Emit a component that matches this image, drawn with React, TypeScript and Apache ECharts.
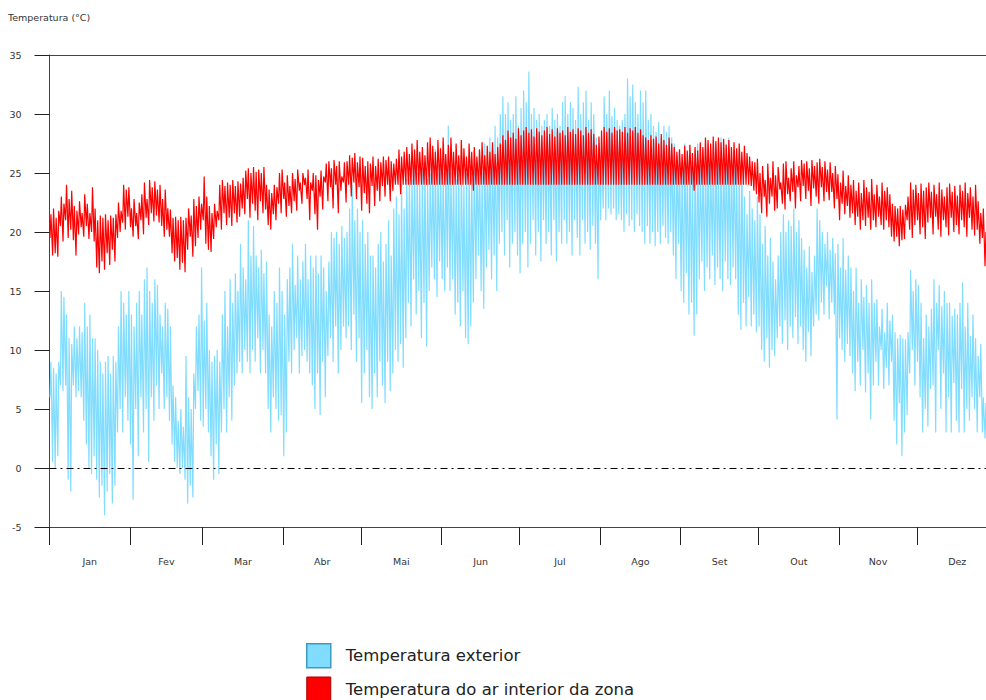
import React, { useEffect, useRef } from "react";
import * as echarts from "echarts";

const MONTHS = ["Jan", "Fev", "Mar", "Abr", "Mai", "Jun", "Jul", "Ago", "Set", "Out", "Nov", "Dez"];
const MONTH_STARTS = [0, 31, 59, 90, 120, 151, 181, 212, 243, 273, 304, 334, 365];
const SERIES_NAMES = ["Temperatura exterior", "Temperatura do ar interior da zona"];

// Daily maximum / minimum of the exterior temperature (°C), day 0 = 1 Jan
const EXT_MAX = [
  9, 8.5, 8, 9, 15, 14.5, 13, 11, 10.5, 12,
  11, 12, 11.5, 14, 12, 13, 11, 11, 10, 9,
  8, 9, 9.5, 8, 9.5, 9, 12, 15, 14, 13,
  15, 13, 12, 14, 15, 13, 16, 17, 15, 14,
  16, 15.5, 13, 12, 14, 13.5, 12, 7, 6, 4,
  5, 3.5, 9.5, 6, 5, 8, 12, 13, 17, 12.5,
  14, 10, 9, 9.5, 10, 9, 13, 15, 12, 16,
  14, 16.5, 15, 19, 17, 16, 21, 18, 20.5, 18,
  17, 18.5, 16.5, 17.5, 13, 12, 15, 14, 17, 15,
  13, 16, 17, 19, 15.5, 18, 16, 17.5, 19, 16,
  18, 17, 18, 16.5, 18, 17, 15, 17.5, 20, 19.5,
  20, 19, 20.5, 19.5, 20, 22, 24, 21, 22, 20,
  21, 19, 20, 18, 18, 17, 19, 20, 17.5, 19,
  21, 18, 22, 23, 21.5, 24, 22, 24.5, 25, 24.5,
  26, 25, 24, 25.5, 26, 24.5, 25, 26, 27, 25,
  26, 25, 26.5, 29, 25, 26, 24.5, 25, 26, 24,
  25, 26, 25, 27, 26, 27, 25, 27.5, 26, 28,
  27, 29, 28, 30, 31.5, 30, 31, 29.5, 30, 31.5,
  29, 30.5, 32, 31, 33.6, 30, 30.5, 29.5, 30, 29,
  29.5, 30, 29, 30.5, 29.5, 30, 29, 31, 31.5, 30,
  31, 30.5, 29.5, 32.3, 30, 31, 32, 29.5, 31, 30,
  28, 27.5, 27, 31.5, 30, 32, 29.8, 30.5, 29.5, 29,
  29.5, 30, 33, 31.5, 32.5, 31, 30, 32, 31, 32,
  29.5, 30, 29, 28.5, 29.3, 28, 29, 28.5, 29, 28,
  27.5, 26.5, 27, 26, 27.5, 26.5, 27, 26, 27, 27.5,
  26, 27, 26.5, 27.5, 26, 27, 27.5, 26, 28, 27,
  27.5, 28, 26.5, 27, 25.5, 26.5, 26, 23, 21.5, 23.5,
  22, 21, 23, 21.5, 19, 20.5, 18, 19.5, 17.5, 16,
  18, 20, 21.5, 20, 21, 20.5, 22, 20, 21, 19.5,
  18.5, 17, 18.8, 16.6, 18, 22, 21, 20, 19, 20,
  18.5, 19.5, 18.2, 19, 17, 19.5, 16.8, 18, 17, 15,
  17, 14, 16, 14.5, 15.5, 14, 16, 14, 14.3, 12,
  13.5, 11.5, 14, 12.5, 13, 11.5, 11, 11.3, 11, 10.9,
  11.5, 16.8, 15, 16, 15.5, 14, 11, 13, 12, 13.5,
  16, 14, 15.5, 13.7, 15, 14, 14, 12.9, 13.5, 13,
  14, 15.7, 12, 14, 11.2, 13, 11, 9.5, 10.5, 6,
  5.5, 6, 7, 8, 7,
];
const EXT_MIN = [
  6, 0.5, 0, 1, 7, 6.5, 7, -1, -2, 7,
  6, 6.5, 6, 4, 2, 0, -0.5, 1, -1, -2.5,
  -1.5, -4, -2, -0.5, -3, -1.5, 3, 5, 3, 6,
  4, 2, -2.7, 5, 1, 6, 3, 5, 0.5, 6,
  4, 7, 5, 8, 5, 6, 4, 2, 0.5, 0,
  -0.5, 0, -1, -3, -1.5, -2.5, 5, 6.5, 4, 3.5,
  5, 3, 1, -1, 2, -0.5, 3, 5, 3, 6,
  4, 7, 8, 9, 8, 10, 9, 8, 10, 9,
  11, 8, 10, 8, 5, 3, 6, 5, 4, 4.5,
  1, 3, 9, 8, 10, 11, 8, 9.5, 10, 9,
  8, 7, 5, 8, 4.5, 9, 6, 9.5, 11, 9,
  12, 8, 10, 12, 11, 12, 10, 13, 9, 11,
  5.5, 8, 10, 6, 5, 8, 6, 9, 7, 5.5,
  9, 6.5, 8, 10, 9, 10.5, 8.5, 11, 14, 12,
  16, 13, 15, 11, 14, 10.3, 15, 17, 16, 14.5,
  17.5, 16, 15, 17, 15, 16, 13, 14, 12, 15,
  11, 10.5, 12, 14, 16, 18, 15, 13.5, 17, 18.5,
  16, 18, 15, 19, 20, 18, 21, 17, 19, 20,
  18, 16.5, 19, 20, 17, 19, 21, 18, 20, 17.5,
  21, 19, 20, 18, 21, 17.5, 20, 19, 21, 19,
  20, 18, 21, 19.5, 18, 21, 19, 20, 18.5, 20.5,
  19, 16, 21, 22, 21, 22, 21.5, 22, 21, 21.5,
  21, 20, 21.5, 20.5, 21, 20, 21.5, 20.5, 20, 19,
  20.5, 19, 20, 18.8, 20, 19, 20.5, 19.5, 19, 20,
  18, 16, 19, 15, 14, 16.5, 13, 14, 11.2, 13,
  16, 17.5, 15, 17, 16, 18, 15.5, 17, 16, 15,
  17.5, 16, 15.5, 17, 16, 13, 11.7, 14, 12, 14.5,
  12, 13, 11.5, 12, 10, 9, 11, 8.5, 10, 9.5,
  11, 12, 10.5, 12.5, 10, 12, 11, 12.8, 10.5, 12,
  10, 9, 11.5, 9.5, 12, 13, 12.5, 14, 13, 15.4,
  12.6, 14, 13, 4.1, 11, 10, 9, 10.5, 9.5, 8,
  6.5, 9, 7, 10, 6.4, 8, 4.1, 7, 9, 7,
  10, 6.7, 8.5, 7, 9, 4, 2, 5.5, 1, 3,
  4.5, 8, 10, 7, 9, 6, 3, 5, 3.5, 6.7,
  7, 3, 10, 5, 8, 3, 6, 3, 7.2, 4,
  3, 6.7, 3, 5, 4, 6, 5, 3, 6, 3,
  2.5, 3, 4, 3, 4,
];

// Daily maximum / minimum of the zone interior air temperature (°C)
const INT_MAX = [
  21.5, 22, 21.2, 21.8, 23, 22.4, 24, 22.8, 23.5, 22.2,
  21.8, 22.6, 21.6, 23.2, 22.4, 21.6, 23.8, 22, 21, 21.4,
  21.2, 21.5, 21, 21.4, 21.2, 21.5, 22.5, 21.8, 24, 23.6,
  23.8, 22, 22.8, 21.6, 22.5, 23.2, 24.2, 22.8, 24.4, 23.8,
  24.3, 23.6, 24, 22.8, 23.6, 22, 21.9, 21.2, 21.3, 21,
  21.3, 21, 21.2, 22, 21.4, 22.8, 22.2, 23, 22.4, 24.7,
  23, 22.2, 21.6, 22.4, 21.8, 24, 24.4, 23.9, 24.2, 24,
  24.4, 23.9, 24.3, 24.1, 24.6, 25.2, 25.4, 25, 25.5, 25.1,
  25.3, 25, 25.5, 24, 23.6, 23.3, 24, 23.8, 25, 25.3,
  24.2, 24.8, 23.9, 25, 24.5, 25.3, 24.2, 25, 24.6, 25.3,
  24.2, 25, 24.8, 24.4, 25.2, 24.7, 25.8, 26, 25.4, 26.1,
  25.6, 26, 24.7, 25.9, 26, 26.5, 26.3, 26.7, 25.9, 26.4,
  26.3, 25.6, 26, 25.8, 26.4, 25.6, 26.2, 25.9, 26.4, 26.1,
  26.4, 26, 25.8, 26.2, 27, 26.4, 26.8, 27.2, 26.6, 27.5,
  27, 27.8, 26.8, 27.2, 26.5, 27.6, 28, 27.3, 26.8, 27.8,
  27.1, 28, 26.6, 27.4, 28, 26.8, 27.5, 26.5, 27.8, 27.1,
  26.4, 27.5, 26.8, 27.2, 26.4, 27, 27.6, 26.5, 27.3, 26.8,
  27.6, 26.6, 27.2, 27.5, 28.2, 27.8, 28.6, 28, 28.4, 27.9,
  28.8, 28.2, 28.6, 28.9, 28.4, 28.7, 28.1, 28.8, 28.5, 28.2,
  28.6, 28.9, 28.3, 28.7, 28.1, 28.8, 28.4, 28.6, 28.2, 28.9,
  28.5, 28.7, 28.3, 28.8, 28.6, 28.2, 28.9, 28.4, 28.7, 28.3,
  27.4, 28.1, 28.6, 28.9, 28.5, 28.8, 28.4, 28.9, 28.6, 28.7,
  28.5, 28.9, 28.4, 28.8, 28.6, 28.9, 28.4, 28.7, 28.2, 28,
  27.8, 28.2, 27.9, 28.1, 27.5, 28.3, 27.8, 27.4, 28, 27.5,
  27.2, 26.8, 27, 26.6, 27.3, 26.9, 27.4, 26.7, 27.2, 26.9,
  27.6, 27.2, 28, 27.8, 27.5, 28.1, 27.7, 28, 27.6, 27.9,
  27.4, 27.8, 27.2, 27.6, 27.1, 27.5, 26.8, 27.3, 26.7, 26.4,
  26, 25.9, 26.2, 25, 25.6, 24.4, 25.8, 24.6, 26, 24.8,
  25.5, 24.2, 25.8, 26, 24.6, 25.4, 26, 24.8, 25.6, 26.1,
  25.8, 26, 25.4, 26.1, 25.6, 25.9, 26.2, 25.5, 26, 25.3,
  25.9, 25, 25.6, 24.9, 24.2, 25.2, 23.9, 24.8, 24, 24.4,
  23.5, 24.2, 23.3, 24.4, 23.8, 23.4, 24.5, 23.2, 24, 23,
  24.2, 23.5, 23.8, 23.2, 22.4, 22.2, 22, 22.2, 21.9, 22.3,
  23, 24.2, 23.6, 24, 23.3, 24.1, 23.5, 23.8, 24.2, 23.4,
  24, 23.2, 24.2, 23.6, 23, 23.8, 24.1, 23.4, 23.9, 23.1,
  24, 23.5, 24.2, 23.3, 23.8, 23, 24, 22.6, 21.6, 22,
  20, 21, 21.5, 21, 21.5,
];
const INT_MIN = [
  19.5, 18, 18.2, 17.9, 20.5, 19.2, 21, 19.5, 20.2, 19.3,
  18, 19.8, 20.4, 19.6, 20.5, 19.4, 20, 19.2, 17, 16.5,
  17.5, 16.8, 18.2, 17.2, 18.5, 17.5, 19.5, 20, 20.8, 20.2,
  21.3, 20.4, 19.6, 20.5, 19.4, 21, 19.8, 21.2, 20.6, 21.6,
  20.9, 21.4, 20.8, 20.5, 19.6, 20.2, 19.6, 18.2, 17.5, 17.8,
  16.8, 17.4, 16.6, 18.5, 19.6, 17.9, 18.8, 19.5, 20.2, 21,
  19, 18.5, 18.3, 19.4, 20.4, 21, 20.2, 21.6, 20.6, 21.2,
  20.5, 21.6, 20.8, 21.3, 22, 21.5, 22.8, 21.2, 22.4, 21.8,
  21, 22.6, 21.6, 21.9, 20.6, 20.2, 21.5, 21, 22.4, 21.6,
  22.8, 21.3, 22.2, 21.6, 22.6, 21.8, 23.5, 22.4, 24, 22.8,
  21, 23.5, 21.5, 20.2, 23, 21.9, 24.2, 22.6, 23.8, 22,
  24, 21.6, 23.5, 24.2, 22.5, 24, 23, 24.2, 22.8, 23.8,
  21.8, 23.3, 22.4, 21.6, 23.9, 22.2, 23.5, 22.6, 23.9, 23,
  24, 22.6, 23.5, 24, 24, 23.2, 24, 24, 24, 24,
  24, 24, 24, 24, 24, 24, 24, 24, 24, 24,
  24, 24, 24, 24, 24, 24, 24, 24, 24, 24,
  24, 24, 24, 23.5, 24, 24, 24, 24, 24, 24,
  24, 24, 24, 24, 24, 24, 24, 24, 24, 24,
  24, 24, 24, 24, 24, 24, 24, 24, 24, 24,
  24, 24, 24, 24, 24, 24, 24, 24, 24, 24,
  24, 24, 24, 24, 24, 24, 24, 24, 24, 24,
  24, 24, 24, 24, 24, 24, 24, 24, 24, 24,
  24, 24, 24, 24, 24, 24, 24, 24, 24, 24,
  24, 24, 24, 24, 24, 24, 24, 24, 24, 24,
  24, 24, 24, 24, 24, 24, 24, 24, 23.5, 24,
  24, 24, 24, 24, 24, 24, 24, 24, 24, 24,
  24, 24, 24, 24, 24, 24, 24, 24, 24, 24,
  23.9, 23.5, 23.2, 22.5, 21.6, 23, 21.3, 22.4, 23, 21.8,
  22, 23.6, 22.4, 21.9, 23.2, 22.6, 23.4, 22, 23.8, 22.6,
  23.9, 22.8, 23.5, 22.2, 23.7, 23, 22.4, 23.8, 22.6, 23.4,
  22.7, 23.4, 22, 22.8, 21, 22.4, 21.5, 22.2, 21.2, 21.6,
  20.6, 21.3, 20.2, 21, 20.5, 21.2, 20.2, 21, 20.4, 21.3,
  20.6, 20.2, 21, 20.4, 19.6, 19.2, 19.6, 18.8, 19.3, 19.4,
  21, 20.2, 19.5, 20.6, 21, 19.8, 20.4, 19.4, 20.8, 21.2,
  19.8, 21.3, 20.2, 19.6, 21, 20.4, 19.7, 21.2, 20, 20.6,
  19.8, 21, 20.4, 19.6, 21.2, 20.2, 19.7, 20.2, 19, 19.5,
  17.1, 18, 18.5, 18, 18.5,
];

const FONT = "'DejaVu Sans', Verdana, sans-serif";
const BLUE = "#80DDFF";
const RED = "#FF0000";

function dailyPoints(mins: number[], maxs: number[]) {
  const n = Math.min(mins.length, maxs.length);
  const pts: number[][] = [];
  for (let d = 0; d < n; d++) {
    pts.push([d + 0.2, mins[d]]);
    pts.push([d + 0.55, maxs[d]]);
  }
  return pts;
}

export default function App() {
  const ref = useRef<HTMLDivElement>(null);
  useEffect(() => {
    if (!ref.current) return;
    const chart = echarts.init(ref.current, null, { renderer: "svg" });
    const mids = MONTHS.map((_, i) => (MONTH_STARTS[i] + MONTH_STARTS[i + 1]) / 2);
    const axisColor = "#444";
    chart.setOption({
      animation: false,
      backgroundColor: "#fff",
      title: {
        text: "Temperatura (°C)",
        left: 8,
        top: 12,
        padding: 0,
        textStyle: { fontSize: 9.5, fontWeight: "normal", color: "#333", fontFamily: FONT },
      },
      grid: { left: 49.5, right: 12.5, top: 55, bottom: 233 },
      legend: {
        orient: "vertical",
        left: 306,
        top: 643,
        padding: 0,
        itemWidth: 24,
        itemHeight: 24,
        itemGap: 8,
        selectedMode: false,
        textStyle: { fontSize: 16.5, color: "#222", fontFamily: FONT, padding: [0, 0, 0, 10] },
        data: [
          { name: SERIES_NAMES[0], icon: "rect", itemStyle: { color: BLUE, borderColor: "#3A9CC0", borderWidth: 1.5 } },
          { name: SERIES_NAMES[1], icon: "rect", itemStyle: { color: RED, borderColor: "#B00000", borderWidth: 1 } },
        ],
      },
      xAxis: [
        {
          type: "value",
          min: 0,
          max: 365,
          axisLine: { show: true, onZero: false, lineStyle: { color: axisColor, width: 1 } },
          axisTick: { show: true, length: 18, customValues: MONTH_STARTS, lineStyle: { color: "#222", width: 1 } },
          axisLabel: {
            show: true,
            customValues: mids,
            margin: 29,
            fontSize: 9.5,
            color: "#333",
            fontFamily: FONT,
            formatter: (v: number) => {
              const i = mids.findIndex((m) => Math.abs(m - v) < 0.01);
              return i >= 0 ? MONTHS[i] : "";
            },
          },
          splitLine: { show: false },
        },
        {
          type: "value",
          position: "top",
          min: 0,
          max: 365,
          axisLine: { show: true, onZero: false, lineStyle: { color: axisColor, width: 1 } },
          axisTick: { show: false },
          axisLabel: { show: false },
          splitLine: { show: false },
        },
      ],
      yAxis: {
        type: "value",
        min: -5,
        max: 35,
        interval: 5,
        axisLine: { show: true, onZero: false, lineStyle: { color: axisColor, width: 1 } },
        axisTick: { show: true, length: 15, lineStyle: { color: "#222", width: 1 } },
        axisLabel: { margin: 28, fontSize: 9.5, color: "#333", fontFamily: FONT },
        splitLine: { show: false },
      },
      series: [
        {
          name: SERIES_NAMES[0],
          type: "line",
          data: dailyPoints(EXT_MIN, EXT_MAX),
          showSymbol: false,
          symbol: "none",
          lineStyle: { color: BLUE, width: 1.2 },
          itemStyle: { color: BLUE },
          markLine: {
            silent: true,
            symbol: ["none", "none"],
            label: { show: false },
            lineStyle: { color: "#000", width: 1, type: [7, 4, 2, 4] },
            data: [{ yAxis: 0 }],
          },
        },
        {
          name: SERIES_NAMES[1],
          type: "line",
          data: dailyPoints(INT_MIN, INT_MAX),
          showSymbol: false,
          symbol: "none",
          lineStyle: { color: RED, width: 1.2 },
          itemStyle: { color: RED },
        },
      ],
    });
    return () => chart.dispose();
  }, []);
  return (
    <div style={{ position: "fixed", left: 0, top: 0, width: 986, height: 700, overflow: "hidden", background: "#fff" }}>
      <div ref={ref} style={{ width: 1010, height: 760 }} />
    </div>
  );
}
